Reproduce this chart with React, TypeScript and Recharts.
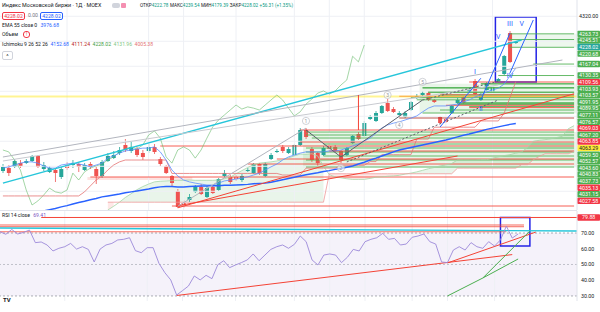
import React from 'react';
import { ComposedChart, Bar, Line, Area, XAxis, YAxis, ReferenceLine, ReferenceArea, ReferenceDot } from 'recharts';

const SLOTS = 99;
const slots = Array.from({ length: SLOTS }, (_, i) => i);

const opens = [3824.8,3834.4,3837.6,3850.4,3850.4,3856.8,3872.8,3831.2,3821.6,3828,3805.6,3844,3844,3847.2,3828,3847.2,3831.2,3808.8,3856.8,3866.4,3882.4,3908,3888.8,3895.2,3882.4,3888.8,3901.6,3863.2,3840.8,3808.8,3760.8,3722.4,3732,3757.6,3773.6,3741.6,3773.6,3764,3808.8,3805.6,3805.6,3796,3824.8,3818.4,3847.2,3808.8,3863.2,3885.6,3901.6,3882.4,3876,3908,3956,3895.2,3882.4,3876,3904.8,3901.6,3888.8,3876,3914.4,3943.2,3936.8,3991.2,3984.8,4010.4,4042.4,4023.2,4004,3997.6,4020,4058.4,4068,4074.4,4052,3997.6,3991.2,4010.4,4042.4,4061.6,4077.6,4112.8,4052,4084,4077.6,4109.6,4135.2,4266.4,4234.4];
const highs = [3847.2,3844,3863.2,3860,3863.2,3876,3876,3853.6,3840.8,3834.4,3837.6,3853.6,3860,3853.6,3850.4,3853.6,3837.6,3860,3882.4,3888.8,3901.6,3927.2,3917.6,3901.6,3892,3911.2,3911.2,3869.6,3844,3812,3767.2,3732,3751.2,3780,3783.2,3776.8,3780,3802.4,3828,3812,3812,3815.2,3834.4,3850.4,3850.4,3853.6,3882.4,3895.2,3908,3901.6,3911.2,3962.4,3962.4,3901.6,3885.6,3904.8,3914.4,3908,3892,3901.6,3940,3949.6,3984.8,4004,4016.8,4036,4055.2,4029.6,4016.8,4016.8,4048.8,4071.2,4080.8,4080.8,4055.2,4000.8,3994.4,4036,4058.4,4064.8,4090.4,4119.2,4074.4,4109.6,4096.8,4122.4,4196,4272.8,4240.8];
const lows = [3818.4,3808.8,3834.4,3834.4,3847.2,3853.6,3834.4,3824.8,3818.4,3789.6,3799.2,3828,3834.4,3821.6,3824.8,3831.2,3783.2,3802.4,3853.6,3863.2,3876,3885.6,3882.4,3869.6,3860,3882.4,3879.2,3840.8,3815.2,3776.8,3706.4,3706.4,3725.6,3754.4,3748,3738.4,3751.2,3760.8,3802.4,3783.2,3792.8,3789.6,3821.6,3815.2,3812,3805.6,3860,3882.4,3882.4,3879.2,3872.8,3904.8,3927.2,3853.6,3840.8,3872.8,3888.8,3885.6,3850.4,3872.8,3911.2,3924,3933.6,3988,3981.6,4007.2,4013.6,4010.4,4000.8,3994.4,4016.8,4055.2,4064.8,4048.8,4042.4,3975.2,3978.4,4007.2,4039.2,4039.2,4074.4,4068,4048.8,4080.8,4074.4,4106.4,4132,4170.4,4231.2];
const closes = [3837.6,3818.4,3856.8,3840.8,3856.8,3872.8,3837.6,3844,3834.4,3818.4,3831.2,3834.4,3850.4,3837.6,3844,3837.6,3808.8,3853.6,3872.8,3876,3892,3892,3901.6,3876,3869.6,3901.6,3885.6,3847.2,3818.4,3786.4,3709.6,3716,3741.6,3773.6,3751.2,3770.4,3754.4,3799.2,3818.4,3789.6,3799.2,3808.8,3828,3847.2,3818.4,3847.2,3876,3888.8,3888.8,3895.2,3908,3956,3933.6,3860,3850.4,3898.4,3895.2,3888.8,3860,3898.4,3936.8,3927.2,3978.4,3997.6,4010.4,4032.8,4016.8,4013.6,4010.4,4010.4,4045.6,4064.8,4074.4,4052,4045.6,3978.4,3981.6,4032.8,4052,4042.4,4084,4071.2,4071.2,4106.4,4093.6,4119.2,4192.8,4173.6,4237.6];

const ema55 = [3662,3667,3672,3677,3682,3687,3692,3697,3701,3705,3710,3714,3719,3724,3728,3733,3737,3742,3745,3748,3751,3755,3758,3761,3764,3767,3771,3774,3775,3775,3774,3774,3775,3776,3777,3777,3778,3778,3779,3779,3780,3781,3782,3784,3785,3786,3789,3793,3797,3801,3805,3809,3813,3816,3819,3823,3826,3830,3833,3837,3841,3847,3853,3860,3866,3873,3879,3886,3892,3896,3900,3904,3908,3912,3916,3920,3924,3929,3934,3939,3943,3948,3953,3958,3962,3966,3970,3974,3977];
const tenkan = [3834,3838,3844,3850,3854,3854,3850,3841,3834,3834,3844,3847,3850,3847,3844,3838,3844,3850,3866,3873,3882,3889,3892,3895,3898,3898,3902,3886,3860,3828,3809,3796,3790,3786,3783,3780,3780,3786,3793,3796,3799,3802,3806,3812,3818,3828,3838,3847,3860,3870,3876,3882,3886,3886,3886,3886,3889,3889,3892,3898,3905,3911,3921,3930,3946,3962,3972,3978,3982,3988,3994,4001,4014,4026,4033,4033,4033,4036,4039,4046,4052,4062,4068,4078,4084,4090,4103,4129,4154];
const kijun = [3745,3745,3745,3745,3745,3745,3745,3745,3745,3745,3745,3745,3745,3745,3758,3777,3796,3809,3828,3844,3854,3860,3860,3860,3860,3860,3860,3860,3860,3817,3817,3817,3817,3817,3817,3817,3817,3817,3817,3817,3817,3817,3817,3817,3817,3817,3817,3817,3812,3812,3812,3812,3834,3834,3834,3834,3834,3834,3843,3843,3843,3843,3843,3855,3855,3877,3877,3877,3877,3877,3877,3927,3927,3927,3965,3965,3965,3965,3965,3965,3965,3965,3985,3985,3985,3985,4010,4060,4111];
const chikou = [3892,3886,3860,3828,3764,3716,3729,3748,3770,3758,3754,3764,3818,3796,3822,3834,3841,3847,3860,3870,3886,3895,3902,3895,3908,3940,3953,3930,3870,3850,3892,3902,3892,3866,3892,3930,3966,3988,4004,4020,4036,4023,4030,4026,4020,4036,4052,4068,4052,4026,4001,4014,4039,4055,4074,4081,4071,4081,4100,4116,4192,4174,4228];
const spanA = [null,null,null,null,null,null,null,null,null,null,null,null,null,null,null,null,null,null,3700,3712,3725,3740,3752,3765,3775,3783,3790,3792,3793,3794,3795,3795,3796,3795,3795,3795,3795,3796,3800,3805,3816,3826,3836,3845,3850,3852,3854,3857,3861,3867,3873,3879,3878,3880,3873,3840,3813,3806,3803,3800,3798,3798,3798,3801,3805,3806,3808,3809,3811,3815,3818,3822,3827,3832,3836,3841,3844,3849,3860,3860,3860,3860,3861,3861,3866,3870,3874,3877,3882,3886,3900,3920,3923,3925,3928,3932,3936,3960,3970];
const spanB = [null,null,null,null,null,null,null,null,null,null,null,null,null,null,null,null,null,null,3725,3725,3725,3725,3725,3725,3725,3725,3725,3725,3725,3725,3725,3725,3725,3725,3725,3725,3725,3725,3725,3725,3725,3725,3725,3725,3725,3725,3725,3725,3725,3725,3725,3725,3725,3725,3725,3725,3816,3816,3816,3816,3816,3816,3816,3816,3816,3816,3816,3816,3816,3816,3816,3816,3816,3816,3816,3816,3816,3816,3834,3834,3834,3834,3834,3834,3834,3834,3834,3834,3834,3845,3845,3861,3871,3880,3880,3880,3880,3880,3888];
const rsi = [70.8,69.2,72.3,69.4,70.4,71.9,63.9,64.3,62.4,58.6,60.3,61.3,63.4,59.8,61.3,59.6,51.6,59.8,62.4,63.4,65.6,66.0,67.0,58.8,57.5,60.7,60.7,50.7,44.8,40.2,30.6,33.4,36.3,42.7,40.2,43.1,41.0,49.9,52.4,48.0,49.7,51.2,52.9,56.7,52.4,56.0,59.6,61.3,62.4,60.3,62.8,68.1,64.5,52.9,49.7,56.0,56.7,56.0,51.2,54.6,59.6,58.6,64.5,66.0,67.0,69.8,66.0,66.6,62.4,63.0,67.3,68.1,69.4,64.5,63.0,51.6,51.2,59.2,61.3,59.2,63.9,61.3,60.3,64.5,61.7,65.6,74.4,66.8,69.4];

// labelled horizontal levels (price, kind, first bar)
const levelPrices = [4263.73,4245.51,4220.68,4167.04,4130.35,4109.56,4103.93,4103.57,4091.95,4089.95,4077.11,4076.57,4069.03,4067.20,4063.85,4063.29,4059.50,4052.57,4043.60,4040.83,4037.73,4035.13,4031.15,4027.58];
const levelKinds = ['g','g','g','g','g','r','g','g','g','g','g','g','r','g','r','y','g','g','g','g','g','r','g','r'];
const levelStarts = [87,87,87,91,85,80,82,82,72,72,73,73,75,75,68,0,70,71,78,78,78,76,80,80];
const lastPrice = 4228.02;
const axisTickPrice = 4320;

// unlabelled horizontal rays
const rayRedPrices = [3904.8,3805.6,3712.8,3863.2,3956,3917.6,3847.2,3888.8,3994.4];
const rayRedStarts = [27,15,29,47,51,51,42,56,68];
const rayGreenPrices = [3949.6,3940,3930.4,3911.2,3898.4,3885.6,3872.8,3860,3837.6,4010.4,4020];
const rayGreenStarts = [52,52,53,55,52,52,55,52,52,72,75];

// trend lines: [x1, y1, x2, y2, kind]
const trendLines: [number, number, number, number, string][] = [
  [0, 3786, 89, 4244, 'cyan'],
  [0, 3869.6, 96, 4180, 'gray'],
  [0, 3856.8, 85, 4100, 'gray2'],
  [30, 3707, 98, 4072, 'red'],
  [30, 3713.6, 78, 3872.8, 'red'],
  [30, 3712, 52, 3962, 'gray'],
  [52, 3956, 58, 3869.6, 'dark'],
  [58, 3869.6, 72, 4052, 'dark'],
  [59, 3853.6, 85, 4052, 'darkdash'],
  [72, 4052, 85, 4112, 'darkdash'],
  [75, 3965.6, 82, 4121.6, 'blue'],
  [82, 4052, 87, 4266, 'blue'],
  [87, 4138.4, 91, 4308, 'blue'],
  [61, 4068, 61, 3956, 'red'],
];
const waveTexts = ['I', 'II', 'III', 'IV', 'V', 'V'];
const waveX = [81, 82, 87, 87, 89, 85];
const waveY = [4144.8, 4026, 4298, 4132, 4298, 4256];
const circleTexts = ['1', '2', '3', '4', '5'];
const circleX = [52, 58, 66, 68, 72];
const circleY = [3985, 3834, 4068, 3972, 4110];
const gridBars = [11, 25, 31, 40, 50, 56, 62, 70, 76, 84];
const gridPrices = [4320, 4240, 4160, 4080, 4000, 3920, 3840, 3760];

// RSI pane drawings
const rsiLevel = 79.88;
const rsiRedFlat = [75.1, 74.0, 70.8];
const rsiRedFlatEnd = [89, 89, 86];
const rsiLines: [number, number, number, number, string][] = [
  [0, 73.2, 98, 71.3, 'cyan'],
  [30, 30.3, 87, 56.3, 'red'],
  [76, 51.0, 91, 70.6, 'red'],
  [76, 30.0, 82, 41.4, 'green'],
  [82, 41.4, 90, 71.3, 'green'],
  [82, 41.4, 88, 53.5, 'green'],
];

const UP = '#26A69A';
const DOWN = '#EF5350';
const GREEN = '#4CAF50';
const RED = '#F23645';
const BOXBLUE = '#2424E6';
const FONT = 'Roboto, Arial, sans-serif';
const colorOf: Record<string, string> = { cyan: '#26C6DA', gray: '#B2B5BE', gray2: '#C8CAD0', red: '#F44336', dark: '#5D606B', darkdash: '#5D606B', blue: '#2962FF', green: '#4CAF50' };

const PRICE_MIN = 3700, PRICE_MAX = 4372, MAIN_H = 210;
const RSI_MIN = 26.8, RSI_MAX = 84;

// right-axis label stacking (labels pushed down when they would overlap)
const labelList = [...levelPrices.map((p, k) => ({ p, kind: levelKinds[k] })), { p: lastPrice, kind: 'c' }].sort((a, b) => b.p - a.p);
const labelMap = new Map<number, { text: string; bg: string; fg: string; shift: number }>();
{
  const pxPer = MAIN_H / (PRICE_MAX - PRICE_MIN);
  let prev = -100;
  labelList.forEach(({ p, kind }) => {
    const raw = (PRICE_MAX - p) * pxPer;
    const y = Math.max(raw, prev + 6.6);
    prev = y;
    const bg = kind === 'g' ? GREEN : kind === 'r' ? RED : kind === 'y' ? '#FFEB3B' : '#26A69A';
    labelMap.set(p, { text: p.toFixed(2), bg, fg: kind === 'y' ? '#131722' : '#FFFFFF', shift: y - raw });
  });
}

const rows = slots.map((i) => {
  const has = i < opens.length;
  const a = spanA[i];
  const b = spanB[i];
  return {
    i,
    o: has ? opens[i] : null,
    c: has ? closes[i] : null,
    hi: has ? highs[i] : null,
    lo: has ? lows[i] : null,
    range: has ? [lows[i], highs[i]] : null,
    ema: i < ema55.length ? ema55[i] : null,
    tenkan: i < tenkan.length ? tenkan[i] : null,
    kijun: i < kijun.length ? kijun[i] : null,
    chikou: i < chikou.length ? chikou[i] : null,
    spanA: a,
    spanB: b,
    cloudUp: a != null && b != null && a >= b ? [b, a] : null,
    cloudDn: a != null && b != null && a < b ? [a, b] : null,
  };
});
const rsiRows = slots.map((i) => ({ i, rsi: i < rsi.length ? rsi[i] : null }));

function Candle(props: any) {
  const { x, y, width, height, payload } = props;
  if (!payload || payload.o == null) return null;
  const top = Math.min(y, y + height);
  const h = Math.abs(height);
  const { o, c, hi, lo } = payload;
  const span = hi - lo || 1;
  const toY = (v: number) => top + ((hi - v) / span) * h;
  const color = c >= o ? UP : DOWN;
  const bTop = toY(Math.max(o, c));
  const bBot = toY(Math.min(o, c));
  const cx = x + width / 2;
  return (
    <g>
      <line x1={cx} x2={cx} y1={top} y2={top + h} stroke={color} strokeWidth={0.8} />
      <rect x={x} y={bTop} width={width} height={Math.max(0.8, bBot - bTop)} fill={color} />
    </g>
  );
}

function PriceTick(props: any) {
  const { x, y, payload } = props;
  const v = payload.value;
  const lab = labelMap.get(v);
  if (!lab) {
    return <text x={x + 2} y={y + 2} fontSize={5.3} fill="#131722" fontFamily={FONT}>{v.toFixed(2)}</text>;
  }
  const yy = y + lab.shift;
  return (
    <g>
      <rect x={x + 0.5} y={yy - 3.2} width={22.5} height={6.4} rx={0.8} fill={lab.bg} />
      <text x={x + 11.7} y={yy + 1.9} textAnchor="middle" fontSize={5.3} fill={lab.fg} fontFamily={FONT}>{lab.text}</text>
    </g>
  );
}

function RsiTick(props: any) {
  const { x, y, payload } = props;
  const v = payload.value;
  if (v === rsiLevel) {
    return (
      <g>
        <rect x={x + 0.5} y={y - 3.2} width={22.5} height={6.4} rx={0.8} fill={RED} />
        <text x={x + 11.7} y={y + 1.9} textAnchor="middle" fontSize={5.3} fill="#fff" fontFamily={FONT}>{v.toFixed(2)}</text>
      </g>
    );
  }
  return <text x={x + 4} y={y + 2} fontSize={5.3} fill="#131722" fontFamily={FONT}>{v.toFixed(2)}</text>;
}

const txt: React.CSSProperties = { position: 'absolute', fontFamily: FONT, fontSize: 5.1, color: '#131722', whiteSpace: 'nowrap', lineHeight: '7px' };

function Header() {
  const ohlcLabels = ['ОТКР', 'МАКС', 'МИН', 'ЗАКР'];
  const ohlcValues = ['4222.78', '4239.54', '4179.39', '4228.02'];
  const ichiValues = ['4152.68', '4111.24', '4228.02', '4131.96', '4005.38'];
  const ichiColors = ['#2962FF', '#B71C1C', '#43A047', '#81C784', '#E57373'];
  return (
    <>
      <div style={{ ...txt, left: 2, top: 2, fontSize: 5.4 }}>Индекс Московской биржи · 1Д · MOEX</div>
      <div style={{ position: 'absolute', left: 112, top: 3, width: 8, height: 5, borderRadius: 2, background: '#D1D4DC' }} />
      <div style={{ position: 'absolute', left: 121, top: 3, width: 5, height: 5, borderRadius: 1, background: '#F48FB1' }} />
      <div style={{ ...txt, left: 140, top: 2, fontSize: 4.6 }}>
        {ohlcLabels.map((l, k) => (
          <span key={k} style={{ marginRight: 1.5 }}>{l}<span style={{ color: '#089981' }}>{ohlcValues[k]}</span></span>
        ))}
        <span style={{ color: '#089981' }}>+56.31 (+1.35%)</span>
      </div>
      <div style={{ ...txt, left: 2, top: 12, width: 21, height: 6, border: '0.8px solid ' + RED, borderRadius: 2, color: RED, textAlign: 'center', lineHeight: '6px' }}>4228.02</div>
      <div style={{ ...txt, left: 28, top: 12, color: '#787B86' }}>0.00</div>
      <div style={{ ...txt, left: 40, top: 12, width: 21, height: 6, border: '0.8px solid #2962FF', borderRadius: 2, color: '#2962FF', textAlign: 'center', lineHeight: '6px' }}>4228.02</div>
      <div style={{ ...txt, left: 2, top: 22 }}>EMA 55 close 0 <span style={{ color: '#2962FF', marginLeft: 2 }}>3976.68</span></div>
      <div style={{ ...txt, left: 2, top: 31 }}>Объем</div>
      <div style={{ ...txt, left: 23, top: 31, width: 5, height: 5, borderRadius: 3, border: '0.8px solid ' + RED, color: RED, textAlign: 'center', lineHeight: '5px', fontSize: 4.5 }}>!</div>
      <div style={{ ...txt, left: 2, top: 41 }}>
        Ichimoku 9 26 52 26
        {ichiValues.map((v, k) => (
          <span key={k} style={{ color: ichiColors[k], marginLeft: 2.5 }}>{v}</span>
        ))}
      </div>
      <div style={{ ...txt, left: 2, top: 51, width: 9, height: 7, border: '0.6px solid #D1D4DC', borderRadius: 2, textAlign: 'center', fontSize: 5.5, lineHeight: '8px' }}>^</div>
    </>
  );
}

export default function App() {
  return (
    <div style={{ position: 'absolute', left: 0, top: 0, width: 600, height: 312, background: '#fff', overflow: 'hidden' }}>
      <div style={{ position: 'absolute', left: 0, top: 0 }}>
        <ComposedChart width={600} height={MAIN_H} data={rows} margin={{ top: 0, right: 0, bottom: 0, left: 0 }}>
          <XAxis dataKey="i" type="category" hide />
          <YAxis orientation="right" width={23} domain={[PRICE_MIN, PRICE_MAX]} allowDataOverflow
            ticks={[axisTickPrice, ...labelList.map((l) => l.p)]} interval={0} tickLine={false} tickSize={0} tickMargin={0}
            axisLine={{ stroke: '#E0E3EB' }} tick={<PriceTick />} />
          {gridBars.map((b) => <ReferenceLine key={'gx' + b} x={b} stroke="#EEF0F5" strokeWidth={1} />)}
          {gridPrices.map((p) => <ReferenceLine key={'gy' + p} y={p} stroke="#EEF0F5" strokeWidth={1} />)}
          <Area dataKey="cloudUp" stroke="none" fill="#4CAF50" fillOpacity={0.12} dot={false} activeDot={false} isAnimationActive={false} />
          <Area dataKey="cloudDn" stroke="none" fill="#F44336" fillOpacity={0.12} dot={false} activeDot={false} isAnimationActive={false} />
          <ReferenceArea x1={52} x2={98} y1={3837} y2={3950} fill={GREEN} fillOpacity={0.13} stroke="none" />
          <ReferenceArea x1={72} x2={98} y1={4010} y2={4104} fill={GREEN} fillOpacity={0.13} stroke="none" />
          <ReferenceArea x1={87} x2={98} y1={4220} y2={4264} fill={GREEN} fillOpacity={0.1} stroke="none" />
          <ReferenceArea x1={15} x2={32} y1={3796} y2={3806} fill="#F44336" fillOpacity={0.15} stroke="none" />
          {rayGreenPrices.map((p, k) => (
            <ReferenceLine key={'rg' + k} segment={[{ x: rayGreenStarts[k], y: p }, { x: 98, y: p }]} stroke={GREEN} strokeOpacity={0.85} strokeWidth={1} />
          ))}
          {rayRedPrices.map((p, k) => (
            <ReferenceLine key={'rr' + k} segment={[{ x: rayRedStarts[k], y: p }, { x: 98, y: p }]} stroke={k === 8 ? '#B03A2E' : '#F44336'} strokeOpacity={0.85} strokeWidth={1} />
          ))}
          {levelPrices.map((p, k) => {
            const kind = levelKinds[k];
            const col = kind === 'g' ? GREEN : kind === 'r' ? '#F44336' : '#FFEB3B';
            const w = kind === 'y' ? 2 : 1;
            return levelStarts[k] === 0
              ? <ReferenceLine key={'lv' + k} y={p} stroke={col} strokeWidth={w} strokeOpacity={kind === 'y' ? 0.55 : 0.85} />
              : <ReferenceLine key={'lv' + k} segment={[{ x: levelStarts[k], y: p }, { x: 98, y: p }]} stroke={col} strokeWidth={w} strokeOpacity={0.85} />;
          })}
          <Line dataKey="spanA" stroke="#A5D6A7" strokeWidth={0.8} dot={false} activeDot={false} isAnimationActive={false} />
          <Line dataKey="spanB" stroke="#EF9A9A" strokeWidth={0.8} dot={false} activeDot={false} isAnimationActive={false} />
          <Line dataKey="chikou" stroke="#66BB6A" strokeOpacity={0.75} strokeWidth={0.8} dot={false} activeDot={false} isAnimationActive={false} />
          <Line dataKey="kijun" stroke="#E57373" strokeWidth={0.8} dot={false} activeDot={false} isAnimationActive={false} />
          <Line dataKey="tenkan" stroke="#5C8DFF" strokeWidth={0.8} dot={false} activeDot={false} isAnimationActive={false} />
          <Line dataKey="ema" stroke="#2962FF" strokeWidth={1.5} dot={false} activeDot={false} isAnimationActive={false} />
          {trendLines.map(([x1, y1, x2, y2, kind], k) => (
            <ReferenceLine key={'tl' + k} segment={[{ x: x1, y: y1 }, { x: x2, y: y2 }]} stroke={colorOf[kind]}
              strokeWidth={kind === 'cyan' ? 1.4 : 1} strokeDasharray={kind === 'darkdash' ? '2 2' : undefined} ifOverflow="visible" />
          ))}
          <Bar dataKey="range" barSize={4} shape={<Candle />} isAnimationActive={false} />
          <ReferenceArea x1={85} x2={91} y1={4109.6} y2={4317.6} fill="none" fillOpacity={0} stroke={BOXBLUE} strokeWidth={1.5} ifOverflow="visible" />
          {waveTexts.map((t, k) => (
            <ReferenceDot key={'wv' + k} x={waveX[k]} y={waveY[k]} r={0} ifOverflow="visible"
              shape={(p: any) => <text x={p.cx} y={p.cy + 2.5} textAnchor="middle" fontSize={7} fill="#2962FF" fontFamily={FONT}>{t}</text>} />
          ))}
          {circleTexts.map((t, k) => (
            <ReferenceDot key={'ci' + k} x={circleX[k]} y={circleY[k]} r={0} ifOverflow="visible"
              shape={(p: any) => (
                <g>
                  <circle cx={p.cx} cy={p.cy} r={3.6} fill="#fff" fillOpacity={0.6} stroke="#B2B5BE" strokeWidth={0.6} />
                  <text x={p.cx} y={p.cy + 1.8} textAnchor="middle" fontSize={5} fill="#9598A1" fontFamily={FONT}>{t}</text>
                </g>
              )} />
          ))}
        </ComposedChart>
      </div>
      <div style={{ position: 'absolute', left: 0, top: 210, width: 577, height: 1, background: '#E0E3EB' }} />
      <div style={{ position: 'absolute', left: 0, top: 211 }}>
        <ComposedChart width={600} height={101} data={rsiRows} margin={{ top: 0, right: 0, bottom: 11, left: 0 }}>
          <XAxis dataKey="i" type="category" hide />
          <YAxis orientation="right" width={23} domain={[RSI_MIN, RSI_MAX]} allowDataOverflow ticks={[30, 40, 50, 60, 70, rsiLevel]}
            interval={0} tickLine={false} tickSize={0} tickMargin={0} axisLine={{ stroke: '#E0E3EB' }} tick={<RsiTick />} />
          {gridBars.map((b) => <ReferenceLine key={'rgx' + b} x={b} stroke="#EEF0F5" strokeWidth={1} />)}
          <ReferenceArea y1={30} y2={70} fill="#7E57C2" fillOpacity={0.08} stroke="none" />
          <ReferenceLine y={70} stroke="#9598A1" strokeDasharray="2 2" strokeWidth={0.8} />
          <ReferenceLine y={50} stroke="#B2B5BE" strokeDasharray="2 2" strokeWidth={0.8} />
          <ReferenceLine y={30} stroke="#9598A1" strokeDasharray="2 2" strokeWidth={0.8} />
          <ReferenceLine segment={[{ x: 7, y: rsiLevel }, { x: 98, y: rsiLevel }]} stroke="#F44336" strokeWidth={1} />
          {rsiRedFlat.map((v, k) => (
            <ReferenceLine key={'rf' + k} segment={[{ x: 0, y: v }, { x: rsiRedFlatEnd[k], y: v }]} stroke="#F44336" strokeOpacity={0.8} strokeWidth={1} />
          ))}
          {rsiLines.map(([x1, y1, x2, y2, kind], k) => (
            <ReferenceLine key={'rl' + k} segment={[{ x: x1, y: y1 }, { x: x2, y: y2 }]} stroke={colorOf[kind]} strokeWidth={kind === 'cyan' ? 1.4 : 1} ifOverflow="visible" />
          ))}
          <Line dataKey="rsi" stroke="#9C89D9" strokeWidth={0.9} dot={false} activeDot={false} isAnimationActive={false} />
          <ReferenceArea x1={85} x2={90} y1={61.7} y2={79.9} fill="none" fillOpacity={0} stroke={BOXBLUE} strokeWidth={1.5} ifOverflow="visible" />
        </ComposedChart>
      </div>
      <Header />
      <div style={{ ...txt, left: 2, top: 212 }}>RSI 14 close <span style={{ color: '#7E57C2', marginLeft: 2 }}>69.41</span></div>
      <div style={{ ...txt, left: 3, top: 296, fontWeight: 700, fontSize: 6 }}>TV</div>
    </div>
  );
}
